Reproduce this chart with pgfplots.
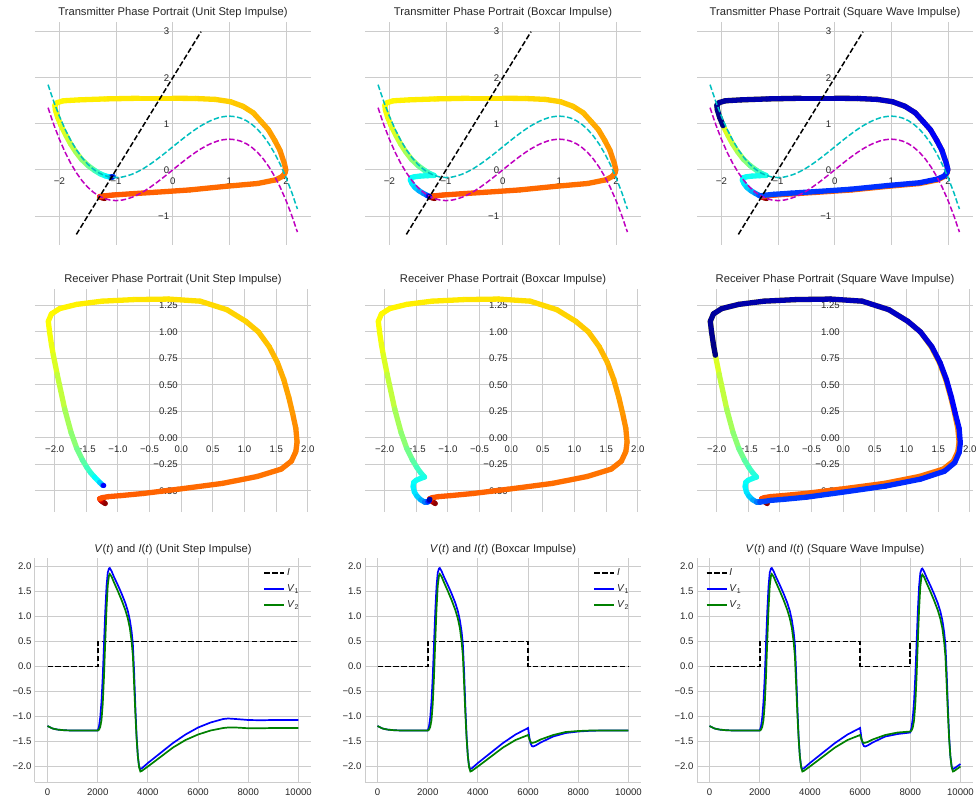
\documentclass[border=0pt]{standalone}
\usepackage{fontspec}
\setmainfont{Liberation Sans}
\usepackage{pgfplots}
\usepackage{pgfplotstable}
\pgfplotsset{compat=1.18}
\definecolor{txt}{gray}{0.15}
\definecolor{gridc}{gray}{0.8}
\definecolor{mc}{rgb}{0.75,0,0.75}
\definecolor{cc}{rgb}{0,0.75,0.75}
\definecolor{gc}{rgb}{0,0.5,0}
\definecolor{bc}{rgb}{0,0,1}

\pgfplotstableread{
v f c
-2.2 1.3493 1.8493
-2.1 0.987 1.487
-2.0 0.6667 1.1667
-1.9 0.3863 0.8863
-1.8 0.144 0.644
-1.7 -0.0623 0.4377
-1.6 -0.2347 0.2653
-1.5 -0.375 0.125
-1.4 -0.4853 0.0147
-1.3 -0.5677 -0.0677
-1.2 -0.624 -0.124
-1.1 -0.6563 -0.1563
-1.0 -0.6667 -0.1667
-0.9 -0.657 -0.157
-0.8 -0.6293 -0.1293
-0.7 -0.5857 -0.0857
-0.6 -0.528 -0.028
-0.5 -0.4583 0.0417
-0.4 -0.3787 0.1213
-0.3 -0.291 0.209
-0.2 -0.1973 0.3027
-0.1 -0.0997 0.4003
0.0 0.0 0.5
0.1 0.0997 0.5997
0.2 0.1973 0.6973
0.3 0.291 0.791
0.4 0.3787 0.8787
0.5 0.4583 0.9583
0.6 0.528 1.028
0.7 0.5857 1.0857
0.8 0.6293 1.1293
0.9 0.657 1.157
1.0 0.6667 1.1667
1.1 0.6563 1.1563
1.2 0.624 1.124
1.3 0.5677 1.0677
1.4 0.4853 0.9853
1.5 0.375 0.875
1.6 0.2347 0.7347
1.7 0.0623 0.5623
1.8 -0.144 0.356
1.9 -0.3863 0.1137
2.0 -0.6667 -0.1667
2.1 -0.987 -0.487
2.2 -1.3493 -0.8493
}\NC

\pgfplotstableread{
v w
-1.7 -1.4
0.5 3.0
}\WN

% Transmitter, unit step
\pgfplotstableread{
t v w
0 -1.20 -0.62
300 -1.25 -0.605
600 -1.27 -0.595
1000 -1.285 -0.585
2000 -1.29 -0.58
2050 -1.22 -0.565
2100 -1.05 -0.545
2150 -0.75 -0.52
2200 -0.30 -0.485
2250 0.30 -0.435
2300 0.95 -0.355
2350 1.50 -0.295
2400 1.82 -0.215
2430 1.93 -0.145
2460 1.98 -0.07
2490 1.995 0.00
2550 1.97 0.14
2650 1.89 0.43
2750 1.80 0.64
2850 1.69 0.87
2950 1.56 1.05
3050 1.42 1.24
3150 1.24 1.38
3250 1.02 1.48
3330 0.75 1.53
3400 0.40 1.55
3450 0.00 1.555
3500 -0.60 1.555
3550 -1.20 1.54
3600 -1.65 1.52
3650 -1.93 1.50
3700 -2.04 1.46
3750 -2.08 1.40
3800 -2.07 1.30
3900 -2.03 1.14
4000 -1.97 0.96
4150 -1.88 0.74
4300 -1.80 0.56
4500 -1.71 0.39
4750 -1.61 0.23
5050 -1.49 0.09
5400 -1.38 -0.01
5750 -1.28 -0.085
6100 -1.19 -0.13
6500 -1.11 -0.155
7000 -1.06 -0.155
7500 -1.05 -0.145
8000 -1.07 -0.15
9000 -1.075 -0.155
10000 -1.075 -0.155
}\Tone

% Transmitter, boxcar
\pgfplotstableread{
t v w
0 -1.20 -0.62
300 -1.25 -0.605
600 -1.27 -0.595
1000 -1.285 -0.585
2000 -1.29 -0.58
2050 -1.22 -0.565
2100 -1.05 -0.545
2150 -0.75 -0.52
2200 -0.30 -0.485
2250 0.30 -0.435
2300 0.95 -0.355
2350 1.50 -0.295
2400 1.82 -0.215
2430 1.93 -0.145
2460 1.98 -0.07
2490 1.995 0.00
2550 1.97 0.14
2650 1.89 0.43
2750 1.80 0.64
2850 1.69 0.87
2950 1.56 1.05
3050 1.42 1.24
3150 1.24 1.38
3250 1.02 1.48
3330 0.75 1.53
3400 0.40 1.55
3450 0.00 1.555
3500 -0.60 1.555
3550 -1.20 1.54
3600 -1.65 1.52
3650 -1.93 1.50
3700 -2.04 1.46
3750 -2.08 1.40
3800 -2.07 1.30
3900 -2.03 1.14
4000 -1.97 0.96
4150 -1.88 0.74
4300 -1.80 0.56
4500 -1.71 0.39
4750 -1.61 0.23
5050 -1.49 0.09
5400 -1.38 -0.01
5750 -1.28 -0.085
6000 -1.21 -0.12
6040 -1.33 -0.125
6080 -1.46 -0.135
6120 -1.56 -0.15
6170 -1.62 -0.17
6250 -1.63 -0.22
6400 -1.60 -0.30
6600 -1.55 -0.38
6900 -1.48 -0.45
7250 -1.40 -0.51
7700 -1.34 -0.55
8200 -1.31 -0.57
9000 -1.295 -0.578
10000 -1.29 -0.58
}\Ttwo

% Transmitter, square wave
\pgfplotstableread{
t v w
0 -1.20 -0.62
300 -1.25 -0.605
600 -1.27 -0.595
1000 -1.285 -0.585
2000 -1.29 -0.58
2050 -1.22 -0.565
2100 -1.05 -0.545
2150 -0.75 -0.52
2200 -0.30 -0.485
2250 0.30 -0.435
2300 0.95 -0.355
2350 1.50 -0.295
2400 1.82 -0.215
2430 1.93 -0.145
2460 1.98 -0.07
2490 1.995 0.00
2550 1.97 0.14
2650 1.89 0.43
2750 1.80 0.64
2850 1.69 0.87
2950 1.56 1.05
3050 1.42 1.24
3150 1.24 1.38
3250 1.02 1.48
3330 0.75 1.53
3400 0.40 1.55
3450 0.00 1.555
3500 -0.60 1.555
3550 -1.20 1.54
3600 -1.65 1.52
3650 -1.93 1.50
3700 -2.04 1.46
3750 -2.08 1.40
3800 -2.07 1.30
3900 -2.03 1.14
4000 -1.97 0.96
4150 -1.88 0.74
4300 -1.80 0.56
4500 -1.71 0.39
4750 -1.61 0.23
5050 -1.49 0.09
5400 -1.38 -0.01
5750 -1.28 -0.085
6000 -1.21 -0.12
6040 -1.33 -0.125
6080 -1.46 -0.135
6120 -1.56 -0.15
6170 -1.62 -0.17
6250 -1.63 -0.22
6400 -1.60 -0.30
6600 -1.55 -0.38
6900 -1.48 -0.45
7250 -1.40 -0.51
7700 -1.34 -0.55
8000 -1.315 -0.565
8050 -1.24 -0.55
8100 -1.07 -0.53
8150 -0.77 -0.505
8200 -0.32 -0.47
8250 0.28 -0.42
8300 0.93 -0.34
8350 1.49 -0.28
8400 1.81 -0.20
8430 1.93 -0.135
8460 1.98 -0.06
8490 1.995 0.01
8550 1.97 0.14
8650 1.89 0.43
8750 1.80 0.64
8850 1.69 0.87
8950 1.56 1.05
9050 1.42 1.24
9150 1.24 1.38
9250 1.02 1.48
9330 0.75 1.53
9400 0.40 1.55
9450 0.00 1.555
9500 -0.60 1.555
9550 -1.20 1.54
9600 -1.65 1.52
9650 -1.93 1.50
9700 -2.04 1.46
9750 -2.08 1.40
9800 -2.07 1.30
9900 -2.03 1.14
10000 -1.97 0.96
}\Tthree

% Receiver, unit step
\pgfplotstableread{
t v w
0 -1.20 -0.62
300 -1.25 -0.60
600 -1.27 -0.59
1000 -1.28 -0.58
2000 -1.29 -0.575
2050 -1.25 -0.565
2100 -1.15 -0.555
2150 -0.95 -0.545
2200 -0.60 -0.525
2250 -0.05 -0.485
2300 0.65 -0.43
2350 1.20 -0.365
2400 1.58 -0.295
2440 1.74 -0.22
2480 1.81 -0.13
2520 1.83 -0.04
2600 1.81 0.09
2700 1.76 0.23
2800 1.70 0.38
2900 1.62 0.55
3000 1.52 0.71
3100 1.39 0.86
3200 1.22 1.00
3280 1.02 1.10
3350 0.72 1.21
3410 0.30 1.29
3460 -0.20 1.31
3510 -0.75 1.305
3560 -1.25 1.29
3610 -1.65 1.26
3650 -1.92 1.22
3690 -2.05 1.17
3740 -2.10 1.10
3800 -2.08 1.00
3900 -2.05 0.88
4000 -2.02 0.78
4200 -1.96 0.60
4500 -1.84 0.27
4750 -1.74 0.05
5000 -1.65 -0.10
5250 -1.56 -0.21
5500 -1.49 -0.28
5750 -1.43 -0.33
6000 -1.37 -0.37
6500 -1.29 -0.42
7000 -1.245 -0.445
7500 -1.23 -0.45
10000 -1.225 -0.45
}\Rone

% Receiver, boxcar
\pgfplotstableread{
t v w
0 -1.20 -0.62
300 -1.25 -0.60
600 -1.27 -0.59
1000 -1.28 -0.58
2000 -1.29 -0.575
2050 -1.25 -0.565
2100 -1.15 -0.555
2150 -0.95 -0.545
2200 -0.60 -0.525
2250 -0.05 -0.485
2300 0.65 -0.43
2350 1.20 -0.365
2400 1.58 -0.295
2440 1.74 -0.22
2480 1.81 -0.13
2520 1.83 -0.04
2600 1.81 0.09
2700 1.76 0.23
2800 1.70 0.38
2900 1.62 0.55
3000 1.52 0.71
3100 1.39 0.86
3200 1.22 1.00
3280 1.02 1.10
3350 0.72 1.21
3410 0.30 1.29
3460 -0.20 1.31
3510 -0.75 1.305
3560 -1.25 1.29
3610 -1.65 1.26
3650 -1.92 1.22
3690 -2.05 1.17
3740 -2.10 1.10
3800 -2.08 1.00
3900 -2.05 0.88
4000 -2.02 0.78
4200 -1.96 0.60
4500 -1.84 0.27
4750 -1.74 0.05
5000 -1.65 -0.10
5250 -1.56 -0.21
5500 -1.49 -0.28
5750 -1.43 -0.33
6000 -1.37 -0.37
6050 -1.44 -0.385
6100 -1.50 -0.40
6150 -1.54 -0.42
6250 -1.55 -0.46
6400 -1.53 -0.51
6600 -1.49 -0.55
6900 -1.43 -0.585
7300 -1.37 -0.605
7800 -1.32 -0.605
8500 -1.30 -0.595
9200 -1.29 -0.585
10000 -1.285 -0.58
}\Rtwo

% Receiver, square wave
\pgfplotstableread{
t v w
0 -1.20 -0.62
300 -1.25 -0.60
600 -1.27 -0.59
1000 -1.28 -0.58
2000 -1.29 -0.575
2050 -1.25 -0.565
2100 -1.15 -0.555
2150 -0.95 -0.545
2200 -0.60 -0.525
2250 -0.05 -0.485
2300 0.65 -0.43
2350 1.20 -0.365
2400 1.58 -0.295
2440 1.74 -0.22
2480 1.81 -0.13
2520 1.83 -0.04
2600 1.81 0.09
2700 1.76 0.23
2800 1.70 0.38
2900 1.62 0.55
3000 1.52 0.71
3100 1.39 0.86
3200 1.22 1.00
3280 1.02 1.10
3350 0.72 1.21
3410 0.30 1.29
3460 -0.20 1.31
3510 -0.75 1.305
3560 -1.25 1.29
3610 -1.65 1.26
3650 -1.92 1.22
3690 -2.05 1.17
3740 -2.10 1.10
3800 -2.08 1.00
3900 -2.05 0.88
4000 -2.02 0.78
4200 -1.96 0.60
4500 -1.84 0.27
4750 -1.74 0.05
5000 -1.65 -0.10
5250 -1.56 -0.21
5500 -1.49 -0.28
5750 -1.43 -0.33
6000 -1.37 -0.37
6050 -1.44 -0.385
6100 -1.50 -0.40
6150 -1.54 -0.42
6250 -1.55 -0.46
6400 -1.53 -0.51
6600 -1.49 -0.55
6900 -1.43 -0.585
7300 -1.37 -0.605
7800 -1.32 -0.605
8000 -1.31 -0.605
8050 -1.25 -0.60
8100 -1.14 -0.59
8150 -0.93 -0.58
8200 -0.58 -0.56
8250 -0.03 -0.515
8300 0.67 -0.455
8350 1.22 -0.39
8400 1.60 -0.315
8440 1.76 -0.235
8480 1.83 -0.14
8520 1.85 -0.05
8600 1.83 0.09
8700 1.77 0.23
8800 1.71 0.38
8900 1.63 0.55
9000 1.53 0.71
9100 1.40 0.86
9200 1.22 1.00
9280 1.02 1.10
9350 0.72 1.21
9410 0.30 1.29
9460 -0.20 1.31
9510 -0.75 1.305
9560 -1.25 1.29
9610 -1.65 1.26
9650 -1.92 1.22
9690 -2.05 1.17
9740 -2.10 1.10
9800 -2.08 1.00
9900 -2.05 0.88
10000 -2.02 0.78
}\Rthree

% Time series: unit step
\pgfplotstableread{
t V1 V2
0 -1.19 -1.19
200 -1.24 -1.24
400 -1.262 -1.262
700 -1.276 -1.276
1000 -1.28 -1.28
2000 -1.28 -1.28
2050 -1.20 -1.265
2100 -1.02 -1.21
2150 -0.70 -1.07
2200 -0.20 -0.75
2250 0.45 -0.20
2300 1.10 0.50
2350 1.60 1.15
2400 1.88 1.62
2450 1.96 1.82
2480 1.97 1.85
2550 1.91 1.80
2650 1.79 1.68
2800 1.63 1.51
2950 1.46 1.33
3100 1.27 1.13
3200 1.11 0.96
3280 0.93 0.77
3350 0.70 0.50
3400 0.45 0.22
3450 -0.10 -0.35
3500 -0.80 -0.95
3550 -1.40 -1.45
3600 -1.80 -1.80
3650 -2.00 -2.02
3700 -2.05 -2.10
3750 -2.04 -2.09
4000 -1.93 -2.00
4500 -1.73 -1.81
5000 -1.53 -1.62
5500 -1.36 -1.47
6000 -1.22 -1.36
6500 -1.12 -1.28
7000 -1.05 -1.23
7200 -1.04 -1.22
7500 -1.05 -1.22
8000 -1.07 -1.235
8500 -1.075 -1.235
9000 -1.07 -1.23
10000 -1.07 -1.23
}\Sone

% Time series: boxcar
\pgfplotstableread{
t V1 V2
0 -1.19 -1.19
200 -1.24 -1.24
400 -1.262 -1.262
700 -1.276 -1.276
1000 -1.28 -1.28
2000 -1.28 -1.28
2050 -1.20 -1.265
2100 -1.02 -1.21
2150 -0.70 -1.07
2200 -0.20 -0.75
2250 0.45 -0.20
2300 1.10 0.50
2350 1.60 1.15
2400 1.88 1.62
2450 1.96 1.82
2480 1.97 1.85
2550 1.91 1.80
2650 1.79 1.68
2800 1.63 1.51
2950 1.46 1.33
3100 1.27 1.13
3200 1.11 0.96
3280 0.93 0.77
3350 0.70 0.50
3400 0.45 0.22
3450 -0.10 -0.35
3500 -0.80 -0.95
3550 -1.40 -1.45
3600 -1.80 -1.80
3650 -2.00 -2.02
3700 -2.05 -2.10
3750 -2.04 -2.09
4000 -1.93 -2.00
4500 -1.73 -1.81
5000 -1.53 -1.62
5500 -1.36 -1.47
6000 -1.23 -1.37
6050 -1.42 -1.45
6100 -1.54 -1.51
6150 -1.59 -1.53
6200 -1.60 -1.525
6300 -1.58 -1.51
6500 -1.52 -1.46
7000 -1.40 -1.37
7500 -1.33 -1.31
8000 -1.30 -1.29
8500 -1.285 -1.28
9000 -1.28 -1.28
10000 -1.28 -1.28
}\Stwo

% Time series: square wave
\pgfplotstableread{
t V1 V2
0 -1.19 -1.19
200 -1.24 -1.24
400 -1.262 -1.262
700 -1.276 -1.276
1000 -1.28 -1.28
2000 -1.28 -1.28
2050 -1.20 -1.265
2100 -1.02 -1.21
2150 -0.70 -1.07
2200 -0.20 -0.75
2250 0.45 -0.20
2300 1.10 0.50
2350 1.60 1.15
2400 1.88 1.62
2450 1.96 1.82
2480 1.97 1.85
2550 1.91 1.80
2650 1.79 1.68
2800 1.63 1.51
2950 1.46 1.33
3100 1.27 1.13
3200 1.11 0.96
3280 0.93 0.77
3350 0.70 0.50
3400 0.45 0.22
3450 -0.10 -0.35
3500 -0.80 -0.95
3550 -1.40 -1.45
3600 -1.80 -1.80
3650 -2.00 -2.02
3700 -2.05 -2.10
3750 -2.04 -2.09
4000 -1.93 -2.00
4500 -1.73 -1.81
5000 -1.53 -1.62
5500 -1.36 -1.47
6000 -1.23 -1.37
6050 -1.42 -1.45
6100 -1.54 -1.51
6150 -1.59 -1.53
6200 -1.60 -1.525
6300 -1.58 -1.51
6500 -1.52 -1.46
7000 -1.40 -1.37
7500 -1.35 -1.32
8000 -1.32 -1.30
8050 -1.22 -1.28
8100 -1.03 -1.22
8150 -0.70 -1.08
8200 -0.20 -0.76
8250 0.45 -0.22
8300 1.10 0.48
8350 1.60 1.13
8400 1.87 1.60
8450 1.95 1.81
8480 1.96 1.84
8550 1.90 1.79
8650 1.78 1.67
8800 1.62 1.50
8950 1.45 1.32
9100 1.26 1.12
9200 1.10 0.95
9280 0.92 0.76
9350 0.69 0.49
9400 0.44 0.21
9450 -0.11 -0.36
9500 -0.81 -0.96
9550 -1.41 -1.46
9600 -1.80 -1.81
9650 -2.00 -2.02
9700 -2.05 -2.10
9750 -2.04 -2.09
10000 -1.95 -2.00
}\Sthree

\pgfplotsset{
  colormap={jetr}{rgb255(0cm)=(128,0,0) rgb255(1cm)=(255,0,0) rgb255(3cm)=(255,255,0) rgb255(5cm)=(0,255,255) rgb255(7cm)=(0,0,255) rgb255(8cm)=(0,0,128)},
  base/.style={scale only axis, width=276pt, anchor=south west,
    grid=major, major grid style={draw=gridc, line width=0.9pt},
    major tick length=0pt, tick style={draw=none},
    scaled x ticks=false, scaled y ticks=false,
    ticklabel style={font=\fontsize{9.6}{11}\selectfont, text=txt},
    title style={font=\fontsize{11.2}{13}\selectfont, text=txt, at={(0.5,1)}, anchor=base, inner sep=0pt, yshift=0pt}},
  phase/.style={base, height=223pt, axis lines=middle, axis line style={draw=none},
    hide obscured x ticks=false, hide obscured y ticks=false,
    point meta min=0, point meta max=10000, colormap name=jetr},
  top/.style={phase, xmin=-2.43, xmax=2.44, ymin=-1.63, ymax=3.21,
    xticklabel style={yshift=-4.5pt},
    xtick={-2,-1,0,1,2}, xticklabels={−2,−1,0,1,2},
    ytick={-1,0,1,2,3}, yticklabels={−1,0,1,2,3}},
  mid/.style={phase, xmin=-2.31, xmax=2.05, ymin=-0.70, ymax=1.405,
    xticklabel style={yshift=-4.5pt},
    xtick={-2,-1.5,-1,-0.5,0,0.5,1,1.5,2}, xticklabels={−2.0,−1.5,−1.0,−0.5,0.0,0.5,1.0,1.5,2.0},
    ytick={-0.5,-0.25,0,0.25,0.5,0.75,1,1.25}, yticklabels={−0.50,−0.25,0.00,0.25,0.50,0.75,1.00,1.25}},
  bot/.style={base, height=224pt, axis lines*=left, axis line style={draw=gridc, line width=1pt},
    xmin=-500, xmax=10500, ymin=-2.31, ymax=2.17,
    xticklabel style={yshift=-3pt},
    xtick={0,2000,4000,6000,8000,10000}, xticklabels={0,2000,4000,6000,8000,10000},
    ytick={-2,-1.5,-1,-0.5,0,0.5,1,1.5,2}, yticklabels={−2.0,−1.5,−1.0,−0.5,0.0,0.5,1.0,1.5,2.0},
    legend style={draw=none, fill=none, font=\fontsize{10}{12}\selectfont, text=txt, row sep=3.5pt},
    legend cell align=left,
    legend image code/.code={\draw[##1] (0pt,0pt) -- (20pt,0pt);}},
  traj/.style={mesh, point meta=explicit, line width=5.3pt, line cap=round},
  ncl/.style={line width=1.5pt, dash pattern=on 5.5pt off 2.4pt},
  iline/.style={black, line width=1.6pt, dash pattern=on 5.5pt off 2.4pt},
  v1line/.style={bc, line width=1.7pt},
  v2line/.style={gc, line width=1.7pt},
}

\newcommand{\nullclines}{%
  \addplot[ncl, cc] table[x=v, y=c] {\NC};
  \addplot[ncl, mc] table[x=v, y=f] {\NC};
  \addplot[ncl, black] table[x=v, y=w] {\WN};
}

\begin{document}
\begin{tikzpicture}
\path[use as bounding box] (0,0) rectangle (977pt,801pt);

% Row 1
\begin{axis}[top, at={(35pt,556pt)}, title={Transmitter Phase Portrait (Unit Step Impulse)}]
\addplot[traj] table[x=v, y=w, meta=t] {\Tone};
\nullclines
\end{axis}
\begin{axis}[top, at={(365pt,556pt)}, title={Transmitter Phase Portrait (Boxcar Impulse)}]
\addplot[traj] table[x=v, y=w, meta=t] {\Ttwo};
\nullclines
\end{axis}
\begin{axis}[top, at={(697pt,556pt)}, title={Transmitter Phase Portrait (Square Wave Impulse)}]
\addplot[traj] table[x=v, y=w, meta=t] {\Tthree};
\nullclines
\end{axis}

% Row 2
\begin{axis}[mid, at={(35pt,289pt)}, title={Receiver Phase Portrait (Unit Step Impulse)}]
\addplot[traj] table[x=v, y=w, meta=t] {\Rone};
\end{axis}
\begin{axis}[mid, at={(365pt,289pt)}, title={Receiver Phase Portrait (Boxcar Impulse)}]
\addplot[traj] table[x=v, y=w, meta=t] {\Rtwo};
\end{axis}
\begin{axis}[mid, at={(697pt,289pt)}, title={Receiver Phase Portrait (Square Wave Impulse)}]
\addplot[traj] table[x=v, y=w, meta=t] {\Rthree};
\end{axis}

% Row 3
\begin{axis}[bot, at={(35pt,19pt)}, title={\textit{V}(\textit{t}) and \textit{I}(\textit{t}) (Unit Step Impulse)},
  legend style={at={(0.975,0.97)}, anchor=north east}]
\addplot[iline] coordinates {(0,0) (2000,0) (2000,0.5) (10000,0.5)};
\addlegendentry{\textit{I}}
\addplot[v1line] table[x=t, y=V1] {\Sone};
\addlegendentry{\textit{V}\textsubscript{1}}
\addplot[v2line] table[x=t, y=V2] {\Sone};
\addlegendentry{\textit{V}\textsubscript{2}}
\end{axis}
\begin{axis}[bot, at={(365pt,19pt)}, title={\textit{V}(\textit{t}) and \textit{I}(\textit{t}) (Boxcar Impulse)},
  legend style={at={(0.975,0.97)}, anchor=north east}]
\addplot[iline] coordinates {(0,0) (2000,0) (2000,0.5) (6000,0.5) (6000,0) (10000,0)};
\addlegendentry{\textit{I}}
\addplot[v1line] table[x=t, y=V1] {\Stwo};
\addlegendentry{\textit{V}\textsubscript{1}}
\addplot[v2line] table[x=t, y=V2] {\Stwo};
\addlegendentry{\textit{V}\textsubscript{2}}
\end{axis}
\begin{axis}[bot, at={(697pt,19pt)}, title={\textit{V}(\textit{t}) and \textit{I}(\textit{t}) (Square Wave Impulse)},
  legend style={at={(0.02,0.97)}, anchor=north west}]
\addplot[iline] coordinates {(0,0) (2000,0) (2000,0.5) (6000,0.5) (6000,0) (8000,0) (8000,0.5) (10000,0.5)};
\addlegendentry{\textit{I}}
\addplot[v1line] table[x=t, y=V1] {\Sthree};
\addlegendentry{\textit{V}\textsubscript{1}}
\addplot[v2line] table[x=t, y=V2] {\Sthree};
\addlegendentry{\textit{V}\textsubscript{2}}
\end{axis}
\end{tikzpicture}
\end{document}
